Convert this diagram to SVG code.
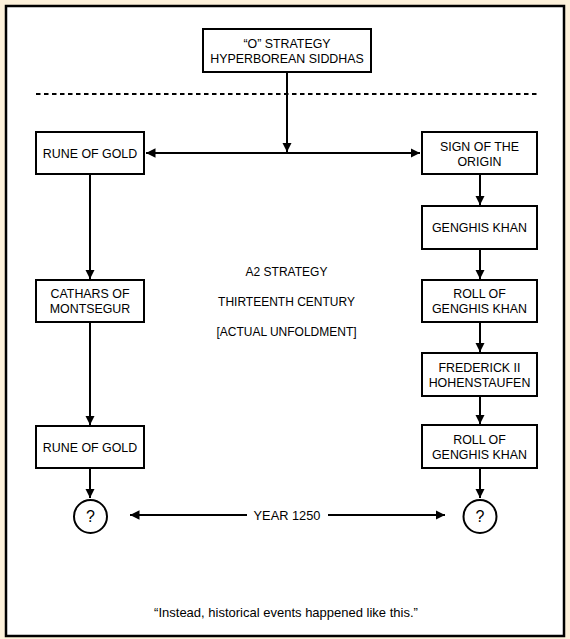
<svg xmlns="http://www.w3.org/2000/svg" width="570" height="639" viewBox="0 0 570 639">
<defs>
<style>
.box{fill:#fff;stroke:#000;stroke-width:2}
.t{font-family:"Liberation Sans",Arial,Helvetica,sans-serif;font-size:12.4px;fill:#000;text-anchor:middle}
.q{font-size:16px}
.c{stroke:#000;stroke-width:2;fill:none}
</style>
<marker id="ah" viewBox="0 0 10 10" refX="10" refY="5" markerWidth="9.5" markerHeight="9.5" markerUnits="userSpaceOnUse" orient="auto-start-reverse">
<path d="M0,0 L10,5 L0,10 z" fill="#000"/>
</marker>
</defs>
<rect x="0" y="0" width="570" height="639" fill="#FDF1DA"/>
<rect x="6" y="6" width="558" height="630" fill="#fff" stroke="#000" stroke-width="2.5"/>
<line x1="36" y1="94" x2="537" y2="94" stroke="#000" stroke-width="2" stroke-dasharray="4.5 3.5"/>

<g id="connectors">
<line class="c" x1="287" y1="72" x2="287" y2="152" marker-end="url(#ah)"/>
<line class="c" x1="146" y1="153" x2="420" y2="153" marker-start="url(#ah)" marker-end="url(#ah)"/>
<line class="c" x1="480" y1="174" x2="480" y2="205" marker-end="url(#ah)"/>
<line class="c" x1="480" y1="249" x2="480" y2="279" marker-end="url(#ah)"/>
<line class="c" x1="480" y1="322" x2="480" y2="352" marker-end="url(#ah)"/>
<line class="c" x1="480" y1="396" x2="480" y2="424" marker-end="url(#ah)"/>
<line class="c" x1="480" y1="468" x2="480" y2="498" marker-end="url(#ah)"/>
<line class="c" x1="90" y1="174" x2="90" y2="279" marker-end="url(#ah)"/>
<line class="c" x1="90" y1="322" x2="90" y2="425" marker-end="url(#ah)"/>
<line class="c" x1="90" y1="468" x2="90" y2="498" marker-end="url(#ah)"/>
<line class="c" x1="247" y1="515" x2="130" y2="515" marker-end="url(#ah)"/>
<line class="c" x1="328" y1="515" x2="445" y2="515" marker-end="url(#ah)"/>
</g>

<g id="top">
<rect class="box" x="203" y="29" width="168" height="43"/>
<text class="t" x="287" y="47.5">“O” STRATEGY</text>
<text class="t" x="287" y="62.5">HYPERBOREAN SIDDHAS</text>
</g>
<g id="rune1">
<rect class="box" x="36" y="132" width="108" height="42"/>
<text class="t" x="90" y="157.5">RUNE OF GOLD</text>
</g>
<g id="sign">
<rect class="box" x="422" y="132" width="115" height="42"/>
<text class="t" x="479.5" y="150.5">SIGN OF THE</text>
<text class="t" x="479.5" y="165.5">ORIGIN</text>
</g>
<g id="genghis">
<rect class="box" x="422" y="206" width="115" height="43"/>
<text class="t" x="479.5" y="232">GENGHIS KHAN</text>
</g>
<g id="roll1">
<rect class="box" x="422" y="280" width="115" height="42"/>
<text class="t" x="479.5" y="298">ROLL OF</text>
<text class="t" x="479.5" y="313">GENGHIS KHAN</text>
</g>
<g id="frederick">
<rect class="box" x="422" y="353" width="115" height="43"/>
<text class="t" x="479.5" y="371.5">FREDERICK II</text>
<text class="t" x="479.5" y="386.5">HOHENSTAUFEN</text>
</g>
<g id="roll2">
<rect class="box" x="422" y="425" width="115" height="43"/>
<text class="t" x="479.5" y="443.5">ROLL OF</text>
<text class="t" x="479.5" y="458.5">GENGHIS KHAN</text>
</g>
<g id="cathars">
<rect class="box" x="36" y="280" width="108" height="42"/>
<text class="t" x="90" y="298">CATHARS OF</text>
<text class="t" x="90" y="313">MONTSEGUR</text>
</g>
<g id="rune2">
<rect class="box" x="36" y="426" width="108" height="42"/>
<text class="t" x="90" y="451.5">RUNE OF GOLD</text>
</g>
<g id="q1">
<circle class="box" cx="90.5" cy="516.5" r="16.5"/>
<text class="t q" x="90.5" y="522">?</text>
</g>
<g id="q2">
<circle class="box" cx="480" cy="516.5" r="16.5"/>
<text class="t q" x="480" y="522">?</text>
</g>
<g id="labels">
<text class="t" x="287" y="519.5" style="font-size:12.8px">YEAR 1250</text>
<text class="t" x="286.5" y="275.5" style="font-size:12px">A2 STRATEGY</text>
<text class="t" x="286.5" y="305.5" style="font-size:12px">THIRTEENTH CENTURY</text>
<text class="t" x="286.5" y="335.5" style="font-size:12px">[ACTUAL UNFOLDMENT]</text>
<text class="t" x="286" y="616.5" style="font-size:13px">“Instead, historical events happened like this.”</text>
</g>
</svg>
